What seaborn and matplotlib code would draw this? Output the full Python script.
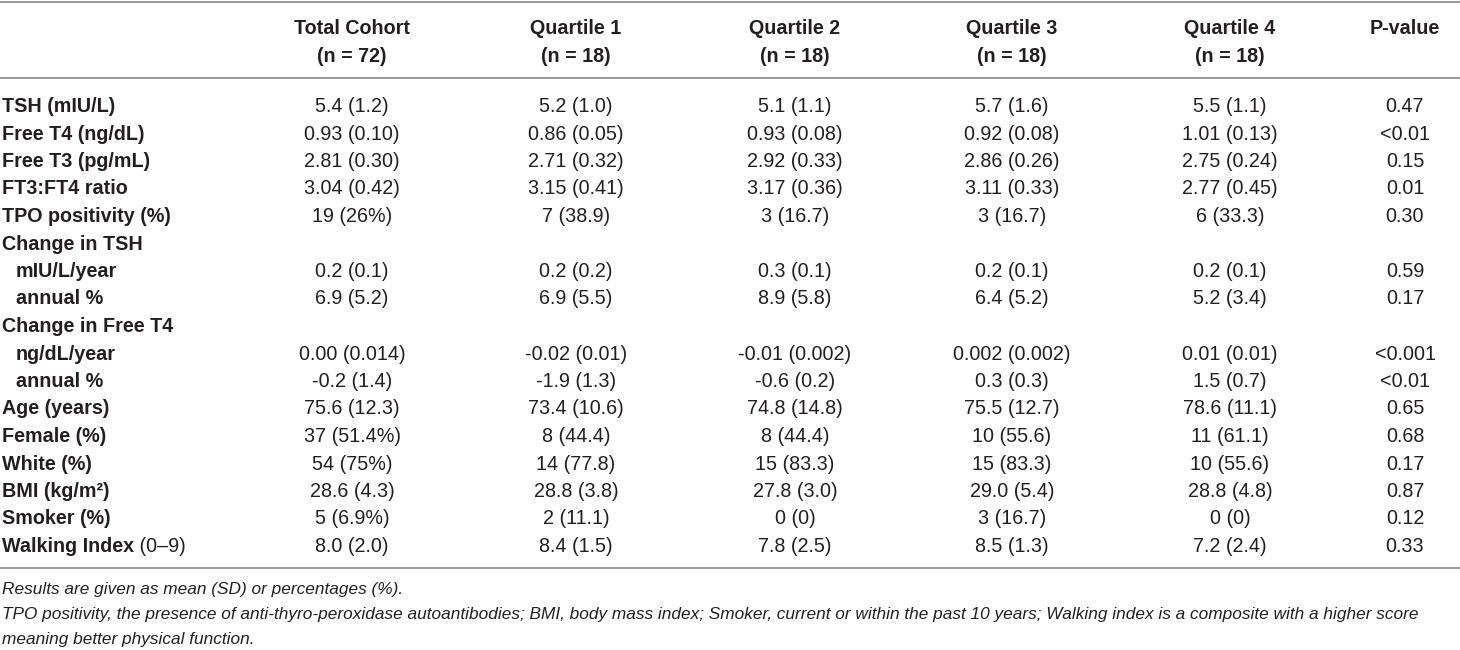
import matplotlib
matplotlib.use("Agg")
import matplotlib.pyplot as plt
import seaborn as sns

# 表格数据
row_labels = ["TSH (mIU/L)", "Free T4 (ng/dL)", "Free T3 (pg/mL)", "FT3:FT4 ratio",
              "TPO positivity (%)", "Change in TSH", "mIU/L/year", "annual %",
              "Change in Free T4", "ng/dL/year", "annual %", "Age (years)",
              "Female (%)", "White (%)", "BMI (kg/m²)", "Smoker (%)", "Walking Index"]
indented = [6, 7, 9, 10]

col_titles = ["Total Cohort", "Quartile 1", "Quartile 2", "Quartile 3", "Quartile 4", "P-value"]
col_n = ["(n = 72)", "(n = 18)", "(n = 18)", "(n = 18)", "(n = 18)", ""]

total_cohort = ["5.4 (1.2)", "0.93 (0.10)", "2.81 (0.30)", "3.04 (0.42)", "19 (26%)", "",
                "0.2 (0.1)", "6.9 (5.2)", "", "0.00 (0.014)", "-0.2 (1.4)", "75.6 (12.3)",
                "37 (51.4%)", "54 (75%)", "28.6 (4.3)", "5 (6.9%)", "8.0 (2.0)"]
quartile1 = ["5.2 (1.0)", "0.86 (0.05)", "2.71 (0.32)", "3.15 (0.41)", "7 (38.9)", "",
             "0.2 (0.2)", "6.9 (5.5)", "", "-0.02 (0.01)", "-1.9 (1.3)", "73.4 (10.6)",
             "8 (44.4)", "14 (77.8)", "28.8 (3.8)", "2 (11.1)", "8.4 (1.5)"]
quartile2 = ["5.1 (1.1)", "0.93 (0.08)", "2.92 (0.33)", "3.17 (0.36)", "3 (16.7)", "",
             "0.3 (0.1)", "8.9 (5.8)", "", "-0.01 (0.002)", "-0.6 (0.2)", "74.8 (14.8)",
             "8 (44.4)", "15 (83.3)", "27.8 (3.0)", "0 (0)", "7.8 (2.5)"]
quartile3 = ["5.7 (1.6)", "0.92 (0.08)", "2.86 (0.26)", "3.11 (0.33)", "3 (16.7)", "",
             "0.2 (0.1)", "6.4 (5.2)", "", "0.002 (0.002)", "0.3 (0.3)", "75.5 (12.7)",
             "10 (55.6)", "15 (83.3)", "29.0 (5.4)", "3 (16.7)", "8.5 (1.3)"]
quartile4 = ["5.5 (1.1)", "1.01 (0.13)", "2.75 (0.24)", "2.77 (0.45)", "6 (33.3)", "",
             "0.2 (0.1)", "5.2 (3.4)", "", "0.01 (0.01)", "1.5 (0.7)", "78.6 (11.1)",
             "11 (61.1)", "10 (55.6)", "28.8 (4.8)", "0 (0)", "7.2 (2.4)"]
p_values = ["0.47", "<0.01", "0.15", "0.01", "0.30", "", "0.59", "0.17", "", "<0.001",
            "<0.01", "0.65", "0.68", "0.17", "0.87", "0.12", "0.33"]

footnotes = [
    "Results are given as mean (SD) or percentages (%).",
    "TPO positivity, the presence of anti-thyro-peroxidase autoantibodies; BMI, body mass index; "
    "Smoker, current or within the past 10 years; Walking index is a composite with a higher score",
    "meaning better physical function.",
]

# 版式
sns.set_theme(style="white")
plt.rcParams['font.family'] = ['Liberation Sans', 'DejaVu Sans']
W, H = 1460, 650
col_x = [352, 576, 795, 1012, 1230, 1405]
row_y0, row_h = 106.5, 27.5
fs = 14.2
txt_color = "#231f20"
line_color = "#9a9a9a"

fig = plt.figure(figsize=(W / 100, H / 100), dpi=100)
ax = fig.add_axes([0, 0, 1, 1])
ax.set_xlim(0, W)
ax.set_ylim(H, 0)
ax.axis("off")

# 横线
for y in [1.5, 78, 568]:
    ax.axhline(y, color=line_color, lw=1.4)

# 表头
for x, title, n in zip(col_x, col_titles, col_n):
    ax.text(x, 28.5, title, ha="center", va="center", fontsize=fs, fontweight="bold", color=txt_color)
    if n:
        ax.text(x, 56.5, n, ha="center", va="center", fontsize=fs, fontweight="bold", color=txt_color)

# 行
columns = [total_cohort, quartile1, quartile2, quartile3, quartile4, p_values]
for i, label in enumerate(row_labels):
    y = row_y0 + i * row_h
    x0 = 16 if i in indented else 2
    t = ax.text(x0, y, label, ha="left", va="center", fontsize=fs, fontweight="bold", color=txt_color)
    if label == "Walking Index":
        ax.annotate(" (0–9)", xy=(1, 0), xycoords=t, ha="left", va="bottom",
                    fontsize=fs, color=txt_color)
    for x, col in zip(col_x, columns):
        if col[i]:
            ax.text(x, y, col[i], ha="center", va="center", fontsize=fs, color=txt_color)

# 脚注
for k, note in enumerate(footnotes):
    ax.text(2, 589.5 + k * 25, note, ha="left", va="center", fontsize=12.4,
            style="italic", color=txt_color)

fig.savefig("out.png", dpi=100)
